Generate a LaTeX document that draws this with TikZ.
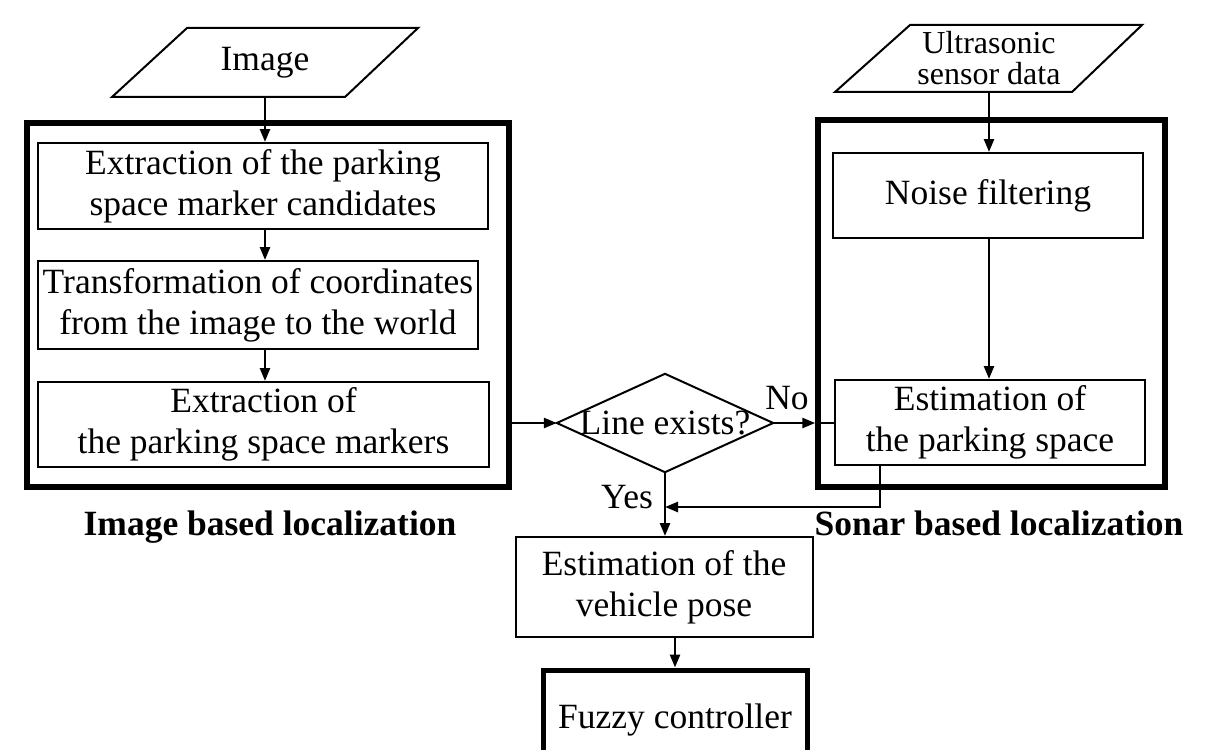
\documentclass[tikz,border=0pt]{standalone}
\usepackage{fontspec}
\setmainfont{Liberation Serif}
\usetikzlibrary{arrows.meta,calc}
\begin{document}
\begin{tikzpicture}[x=1pt,y=-1pt,
  every node/.style={font=\fontsize{35.5}{41}\selectfont, inner sep=0pt, align=center},
  proc/.style={draw, line width=2pt},
  group/.style={draw, line width=5.5pt},
  arr/.style={line width=2.5pt, -{Triangle[length=13pt,width=10pt]}},
  conn/.style={line width=2.5pt},
  shapeline/.style={line width=2pt, line join=miter},
  lbl/.style={font=\fontsize{35.5}{41}\selectfont\bfseries}]
\clip (0,0) rectangle (1214,749);
\fill[white] (0,0) rectangle (1214,749);

% left group
\node[group, minimum width=482pt, minimum height=364pt] (lbox) at (268,305) {};
\node[minimum width=233pt, minimum height=69pt] (img) at (265,62.5) {Image};
\draw[shapeline] (112,97) -- (345,97) -- (418,28) -- (187,28) -- cycle;
\node[proc, minimum width=450pt, minimum height=86pt] (b1) at (263,186) {Extraction of the parking\\space marker candidates};
\node[proc, minimum width=440pt, minimum height=88pt] (b2) at (258,305) {Transformation of coordinates\\from the image to the world};
\node[proc, minimum width=451pt, minimum height=85pt] (b3) at (263.5,424.5) {Extraction of\\the parking space markers};
\draw[arr] (img.south) -- (img.south |- b1.north);
\draw[arr] (img.south |- b1.south) -- (img.south |- b2.north);
\draw[arr] (img.south |- b2.south) -- (img.south |- b3.north);
\node[lbl] (lbl1) at (270,527) {Image based localization};

% right group
\node[group, minimum width=347pt, minimum height=367pt] (rbox) at (991.5,303.5) {};
\node[font=\fontsize{32}{31}\selectfont, minimum width=232pt, minimum height=67pt] (us) at (989,58.5) {Ultrasonic\\sensor data};
\draw[shapeline] (835,92) -- (1072,92) -- (1142,25) -- (910,25) -- cycle;
\node[proc, minimum width=310pt, minimum height=85pt] (noise) at (988,195.5) {Noise filtering};
\node[proc, minimum width=310pt, minimum height=85pt] (est) at (990,422.5) {Estimation of\\the parking space};
\draw[arr] (us.south) -- (us.south |- noise.north);
\draw[arr] (us.south |- noise.south) -- (us.south |- est.north);
\node[lbl] (lbl2) at (999,523) {Sonar based localization};

% decision
\node[minimum width=216pt, minimum height=98pt] (dia) at (665,423) {Line exists?};
\draw[shapeline] (dia.west) -- (dia.north) -- (dia.east) -- (dia.south) -- cycle;
\draw[arr] (lbox.east |- dia) -- (dia.west);
\draw[arr] (dia.east) -- (rbox.west |- dia);
\draw[conn] (rbox.west |- dia) -- (est.west |- dia);
\node (no) at (787,398) {No};
\node (yes) at (627,497) {Yes};

% bottom
\node[proc, minimum width=297pt, minimum height=100pt] (veh) at (664,587) {Estimation of the\\vehicle pose};
\node[draw, line width=5pt, minimum width=264pt, minimum height=100pt] (fz) at (675,720) {Fuzzy controller};
\draw[arr] (dia.south) -- (dia.south |- veh.north);
\coordinate (fb) at (880,507);
\draw[arr] (est.south -| fb) -- (fb) -- (dia.south |- fb);
\draw[arr] (veh.south -| fz) -- (fz.north);
\end{tikzpicture}
\end{document}
